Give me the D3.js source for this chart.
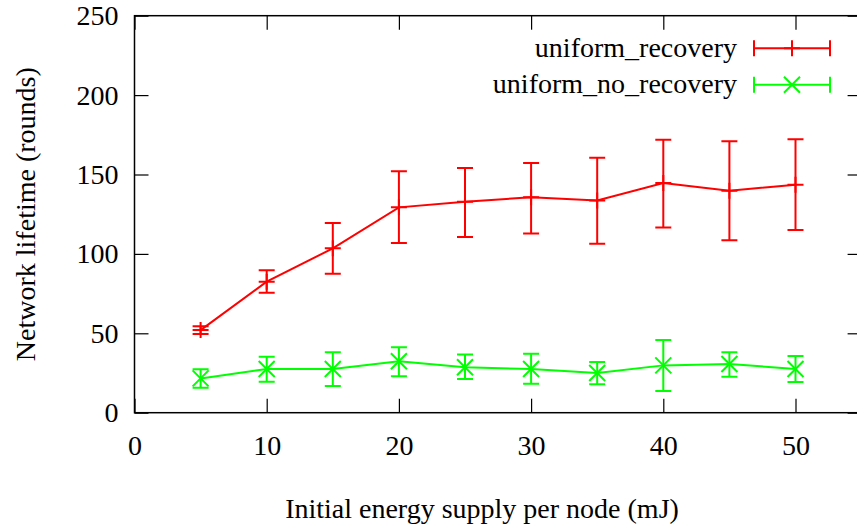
<!DOCTYPE html>
<html>
<head>
<meta charset="utf-8">
<script src="https://cdn.jsdelivr.net/npm/d3@7"></script>
<style>
  body { margin: 0; background: #fff; }
  svg { display: block; }
  svg text { font-family: 'Liberation Serif', 'Times New Roman', Times, serif !important; font-size: 28px; fill: #000; }
</style>
</head>
<body>
<div id="chart"></div>
<script>
// energy supply per node (mJ)
const energy = [5, 10, 15, 20, 25, 30, 35, 40, 45, 50];

// uniform_recovery
const recoveryMean = [52, 82.5, 103.5, 129.3, 132.9, 135.6, 133.7, 144.6, 139.8, 143.6];
const recoveryLow = [49.5, 75.6, 87.5, 106.9, 110.6, 112.8, 106.4, 116.7, 108.6, 115];
const recoveryHigh = [54.5, 89.7, 119.5, 152, 154.1, 157.2, 160.6, 171.9, 170.9, 172.2];

// uniform_no_recovery
const noRecoveryMean = [21.6, 27.5, 27.5, 32.4, 28.6, 27.5, 25, 29.8, 30.7, 27.5];
const noRecoveryLow = [15.7, 19.5, 16.8, 22.9, 21.2, 18.2, 17.9, 13.7, 22.7, 19.3];
const noRecoveryHigh = [27.3, 35.3, 38, 41.2, 36.6, 37.2, 31.9, 45.8, 38, 35.7];

const xTicks = [0, 10, 20, 30, 40, 50];
const yTicks = [0, 50, 100, 150, 200, 250];

const width = 857, height = 525;

const svg = d3.select('#chart').append('svg')
  .attr('width', width)
  .attr('height', height);

const x = d3.scaleLinear().domain([0, 55]).range([134.5, 861.6]);
const y = d3.scaleLinear().domain([0, 250]).range([412.7, 15.7]);

const series = [
  { name: 'uniform_recovery', color: '#ff0000', marker: 'plus',
    mean: recoveryMean, low: recoveryLow, high: recoveryHigh },
  { name: 'uniform_no_recovery', color: '#00ff00', marker: 'cross',
    mean: noRecoveryMean, low: noRecoveryLow, high: noRecoveryHigh }
];

// axes, ticks pointing inward on all four sides
function styleAxis(g) {
  g.attr('font-family', null).attr('font-size', null);
  g.select('.domain').remove();
  g.selectAll('.tick line').attr('stroke', '#000').attr('stroke-width', 1.2);
}

svg.append('g')
  .attr('transform', `translate(0,${y(0)})`)
  .call(d3.axisBottom(x).tickValues(xTicks).tickSizeInner(-14).tickSizeOuter(0).tickPadding(22))
  .call(styleAxis);

svg.append('g')
  .attr('transform', `translate(0,${y(250)})`)
  .call(d3.axisTop(x).tickValues(xTicks).tickSizeInner(-14).tickSizeOuter(0).tickFormat(''))
  .call(styleAxis);

svg.append('g')
  .attr('transform', `translate(${x(0)},0)`)
  .call(d3.axisLeft(y).tickValues(yTicks).tickSizeInner(-14).tickSizeOuter(0).tickPadding(16))
  .call(styleAxis);

svg.append('g')
  .attr('transform', `translate(${x(55)},0)`)
  .call(d3.axisRight(y).tickValues(yTicks).tickSizeInner(-14).tickSizeOuter(0).tickFormat(''))
  .call(styleAxis);

// frame
svg.append('rect')
  .attr('x', x(0)).attr('y', y(250))
  .attr('width', x(55) - x(0)).attr('height', y(0) - y(250))
  .attr('fill', 'none').attr('stroke', '#000').attr('stroke-width', 1.5);

// axis titles
svg.append('text')
  .attr('x', 482).attr('y', 518)
  .attr('text-anchor', 'middle')
  .text('Initial energy supply per node (mJ)');

svg.append('text')
  .attr('transform', `translate(35,${(y(0) + y(250)) / 2}) rotate(-90)`)
  .attr('text-anchor', 'middle')
  .text('Network lifetime (rounds)');

const cap = 8, m = 8;

function drawMarker(g, kind, cx, cy, color) {
  const d = kind === 'plus'
    ? `M${cx - m},${cy}H${cx + m}M${cx},${cy - m}V${cy + m}`
    : `M${cx - m},${cy - m}L${cx + m},${cy + m}M${cx - m},${cy + m}L${cx + m},${cy - m}`;
  g.append('path').attr('d', d)
    .attr('stroke', color).attr('stroke-width', 2).attr('fill', 'none');
}

const line = d3.line().x(d => x(d[0])).y(d => y(d[1]));

series.forEach(s => {
  const g = svg.append('g');
  const pts = energy.map((e, i) => [e, s.mean[i]]);

  g.append('path')
    .attr('d', line(pts))
    .attr('fill', 'none')
    .attr('stroke', s.color)
    .attr('stroke-width', 2);

  energy.forEach((e, i) => {
    const cx = x(e), lo = y(s.low[i]), hi = y(s.high[i]);
    g.append('path')
      .attr('d', `M${cx},${lo}V${hi}M${cx - cap},${lo}H${cx + cap}M${cx - cap},${hi}H${cx + cap}`)
      .attr('stroke', s.color).attr('stroke-width', 2).attr('fill', 'none');
    drawMarker(g, s.marker, cx, y(s.mean[i]), s.color);
  });
});

// legend
series.forEach((s, i) => {
  const ly = 48.3 + i * 36.4;
  const g = svg.append('g');
  g.append('text')
    .attr('x', 737).attr('y', ly + 8.5)
    .attr('text-anchor', 'end')
    .text(s.name);
  g.append('path')
    .attr('d', `M754,${ly}H830M754,${ly - cap}V${ly + cap}M830,${ly - cap}V${ly + cap}`)
    .attr('stroke', s.color).attr('stroke-width', 2).attr('fill', 'none');
  drawMarker(g, s.marker, 792, ly, s.color);
});
</script>
</body>
</html>
